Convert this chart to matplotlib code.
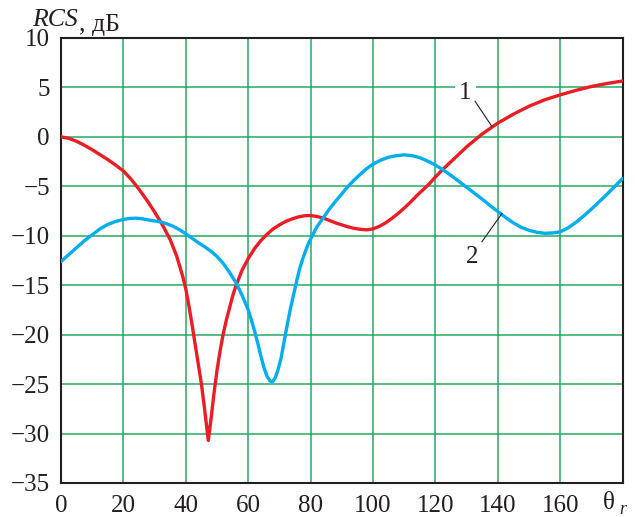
import matplotlib.pyplot as plt

plt.rcParams['font.family'] = ['Liberation Serif', 'DejaVu Serif']
plt.rcParams['axes.unicode_minus'] = True

# curve 1 (red)
theta1 = [0, 2.5, 5, 7.5, 10, 12.5, 15, 17.5, 20, 22.5, 25, 27.5, 30, 32.5,
          35, 37, 39, 40, 41, 42, 43, 44, 45, 46, 47.2, 48.2, 49, 50, 51, 52,
          53, 54, 55, 56, 58, 60, 62, 64, 66, 68, 70, 72, 74, 76, 78, 80, 82,
          84, 86, 88, 90, 92, 94, 96, 98, 100, 102, 104, 106, 108, 110, 112,
          114, 116, 118, 120, 122, 124, 126, 128, 130, 132.5, 135, 137.5, 140,
          142.5, 145, 147.5, 150, 155, 160, 165, 170, 175, 180]
rcs1 = [0, -0.15, -0.45, -0.85, -1.3, -1.8, -2.3, -2.85, -3.45, -4.3, -5.3,
        -6.4, -7.6, -8.9, -10.4, -12.0, -14.1, -15.4, -17.1, -19.0, -21.0,
        -23.0, -25.0, -27.5, -30.7, -28.2, -26.0, -23.6, -21.6, -19.9, -18.5,
        -17.3, -16.1, -15.1, -13.5, -12.3, -11.3, -10.5, -9.85, -9.3, -8.9,
        -8.55, -8.3, -8.1, -7.98, -7.95, -8.05, -8.2, -8.45, -8.7, -8.9, -9.1,
        -9.25, -9.35, -9.4, -9.3, -9.05, -8.7, -8.25, -7.75, -7.2, -6.6,
        -5.95, -5.35, -4.75, -4.05, -3.4, -2.8, -2.2, -1.6, -1.0, -0.35, 0.3,
        0.85, 1.4, 1.85, 2.3, 2.7, 3.1, 3.75, 4.25, 4.7, 5.1, 5.4, 5.65]

# curve 2 (blue)
theta2 = [0, 2.5, 5, 7.5, 10, 12.5, 15, 17.5, 20, 22, 24, 26, 28, 30, 32, 34,
          36, 38, 40, 42, 44, 46, 48, 50, 52, 54, 56, 58, 60, 61, 62, 63, 64,
          65, 66, 67, 67.8, 68.6, 69.5, 70.5, 71.5, 72.5, 73.5, 74.5, 75.5,
          76.5, 77.5, 79, 80.5, 82, 84, 86, 88, 90, 92, 94, 96, 98, 100, 102.5,
          105, 107.5, 110, 112.5, 115, 117.5, 120, 122.5, 125, 127.5, 130,
          132.5, 135, 137.5, 140, 142.5, 145, 147.5, 150, 152.5, 155, 157.5,
          160, 162.5, 165, 167.5, 170, 172.5, 175, 177.5, 180]
rcs2 = [-12.6, -11.9, -11.2, -10.5, -9.9, -9.3, -8.85, -8.55, -8.35, -8.25,
        -8.22, -8.28, -8.4, -8.5, -8.6, -8.8, -9.05, -9.4, -9.8, -10.25,
        -10.7, -11.1, -11.55, -12.1, -12.8, -13.7, -14.7, -16.0, -17.5, -18.5,
        -19.6, -20.8, -22.1, -23.3, -24.2, -24.7, -24.75, -24.4, -23.6, -22.4,
        -20.7, -19.0, -17.4, -16.0, -14.6, -13.3, -12.3, -11.0, -10.0, -9.1,
        -8.2, -7.3, -6.5, -5.75, -5.0, -4.35, -3.75, -3.2, -2.75, -2.35,
        -2.05, -1.9, -1.82, -1.9, -2.1, -2.45, -2.85, -3.35, -3.9, -4.5,
        -5.1, -5.7, -6.3, -6.95, -7.55, -8.15, -8.7, -9.15, -9.45, -9.65,
        -9.75, -9.72, -9.6, -9.2, -8.65, -8.0, -7.3, -6.55, -5.8, -5.0, -4.2]

xticks = [0, 20, 40, 60, 80, 100, 120, 140, 160]
yticks = [10, 5, 0, -5, -10, -15, -20, -25, -30, -35]

ink = '#231f20'

fig = plt.figure(figsize=(6.35, 5.17), dpi=100)
ax = fig.add_axes([0.0961, 0.0658, 0.8845, 0.8607])

ax.plot(theta1, rcs1, color='#ec1c24', lw=2.4, zorder=3,
        solid_joinstyle='round', solid_capstyle='round')
ax.plot(theta2, rcs2, color='#00aeef', lw=2.4, zorder=3,
        solid_joinstyle='round', solid_capstyle='round')

ax.set_xlim(0, 180)
ax.set_ylim(-35, 10)
ax.set_xticks(xticks)
ax.set_yticks(yticks)
ax.grid(True, color='#12a553', lw=1.2, alpha=0.85)
ax.tick_params(length=0, labelsize=18, colors=ink)
ax.tick_params(axis='x', pad=9)
ax.tick_params(axis='y', pad=8)
for s in ax.spines.values():
    s.set_color(ink)
    s.set_linewidth(1.5)

# axis captions
t = fig.text(32 / 635, 1 - 26 / 517, 'RCS', fontsize=18.5, color=ink,
             fontstyle='italic', ha='left', va='baseline')
ax.annotate(', дБ', xy=(1, 0), xycoords=t, xytext=(1, 0),
            textcoords='offset points', fontsize=18.5, color=ink,
            ha='left', va='baseline', annotation_clip=False)
fig.text(603 / 635, 1 - 509 / 517, 'θ', fontsize=18, color=ink,
         ha='left', va='baseline')
fig.text(619 / 635, 1 - 514 / 517, 'r', fontsize=13, color=ink,
         fontstyle='italic', ha='left', va='baseline')

# curve numbers with leader lines
ax.text(129.5, 4.4, '1', fontsize=18, color=ink, ha='center',
        va='center', zorder=4,
        bbox=dict(facecolor='white', edgecolor='none', pad=3))
ax.plot([132.7, 138.1], [3.6, 1.05], color=ink, lw=0.8, zorder=4)
ax.text(131.9, -12.1, '2', fontsize=18, color=ink, ha='center',
        va='center', zorder=4)
ax.plot([134.9, 141.3], [-10.6, -7.75], color=ink, lw=0.8, zorder=4)

fig.savefig('out.png', dpi=100)
